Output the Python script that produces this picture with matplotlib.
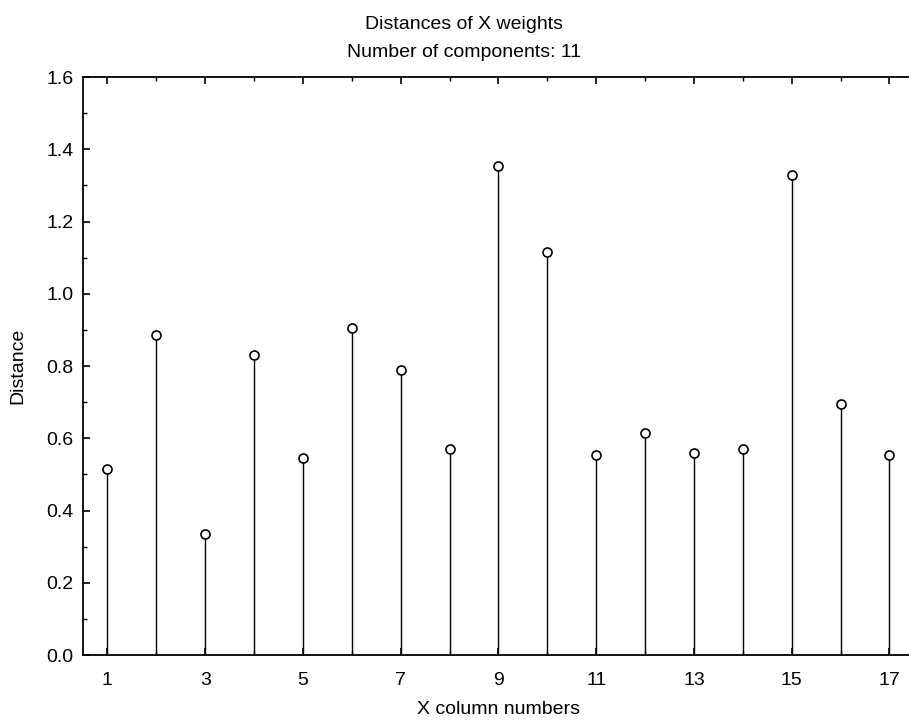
import matplotlib.pyplot as plt
from matplotlib.ticker import MultipleLocator

plt.rcParams['font.family'] = ['Liberation Sans', 'DejaVu Sans']

# distances
columns = list(range(1, 18))
distances = [0.515, 0.885, 0.335, 0.83, 0.545, 0.905, 0.79, 0.57, 1.355,
             1.115, 0.555, 0.615, 0.56, 0.57, 1.33, 0.695, 0.555]
xticks = [1, 3, 5, 7, 9, 11, 13, 15, 17]

fig = plt.figure(figsize=(9.09, 7.24), dpi=100)
ax = fig.add_axes([0.0913, 0.0953, 0.914, 0.7983])

ax.vlines(columns, 0, distances, colors='black', linewidth=1.0)
ax.plot(columns, distances, 'o', markersize=6.5, markerfacecolor='white',
        markeredgecolor='black', markeredgewidth=1.2, zorder=3)

ax.set_xlim(0.5, 17.5)
ax.set_ylim(0, 1.6)
ax.set_xticks(xticks)
ax.xaxis.set_minor_locator(MultipleLocator(1))
ax.yaxis.set_major_locator(MultipleLocator(0.2))
ax.yaxis.set_minor_locator(MultipleLocator(0.1))
ax.yaxis.set_major_formatter(plt.FormatStrFormatter('%.1f'))

ax.tick_params(axis='both', which='both', direction='in', top=True, right=False,
               labelsize=14)
ax.tick_params(axis='both', which='major', length=5, width=1.2)
ax.tick_params(axis='both', which='minor', length=3, width=1.0)
ax.tick_params(axis='x', which='major', pad=12)
ax.tick_params(axis='y', which='major', pad=7)
ax.spines['right'].set_visible(False)
for s in ['left', 'bottom', 'top']:
    ax.spines[s].set_linewidth(1.3)

# two-line title, centred a bit left of the (clipped) axes centre
fig.text(0.5105, 0.96, 'Distances of X weights', fontsize=14,
         ha='center', va='baseline')
fig.text(0.5105, 0.9213, 'Number of components: 11', fontsize=14,
         ha='center', va='baseline')
ax.set_xlabel('X column numbers', fontsize=14, labelpad=9)
ax.set_ylabel('Distance', fontsize=14, labelpad=14)

fig.savefig('out.png', dpi=100)
